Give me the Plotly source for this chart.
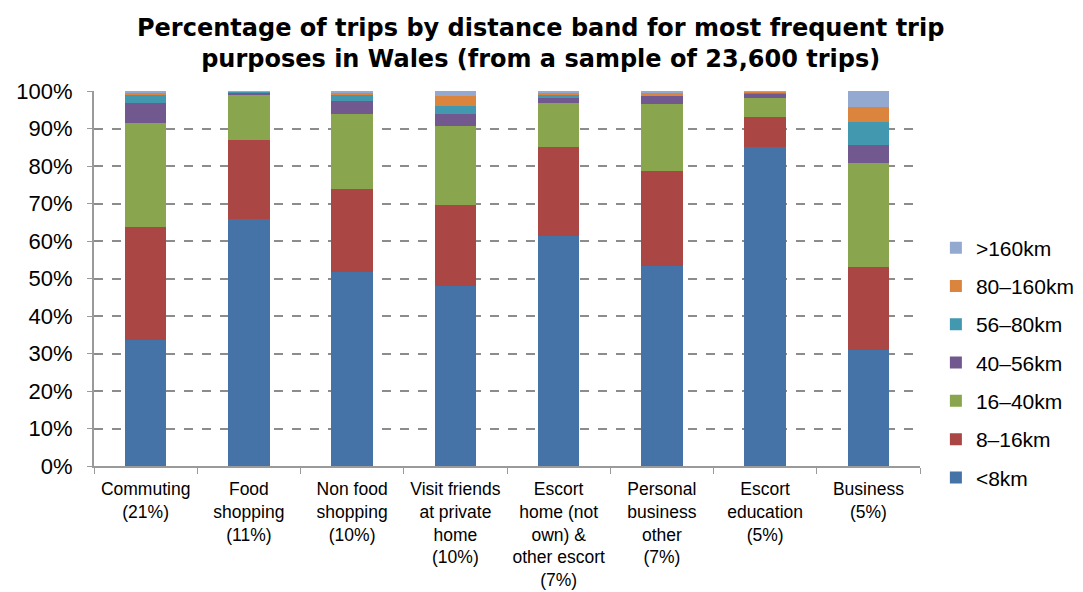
import plotly.graph_objects as go

categories = [
    "Commuting<br>(21%)",
    "Food<br>shopping<br>(11%)",
    "Non food<br>shopping<br>(10%)",
    "Visit friends<br>at private<br>home<br>(10%)",
    "Escort<br>home (not<br>own) &<br>other escort<br>(7%)",
    "Personal<br>business<br>other<br>(7%)",
    "Escort<br>education<br>(5%)",
    "Business<br>(5%)",
]

lt8 = [33.5, 65.9, 51.7, 48.0, 61.3, 53.3, 85.1, 30.9]
b8_16 = [30.2, 21.0, 22.2, 21.6, 23.8, 25.4, 8.0, 22.2]
b16_40 = [27.8, 12.0, 20.0, 21.1, 11.7, 17.8, 5.0, 27.7]
b40_56 = [5.3, 0.6, 3.4, 3.2, 1.4, 2.2, 1.3, 4.8]
b56_80 = [2.1, 0.4, 1.6, 2.1, 0.7, 0.2, 0.1, 6.1]
b80_160 = [0.6, 0.05, 0.6, 2.7, 0.6, 0.5, 0.4, 4.0]
gt160 = [0.5, 0.05, 0.5, 1.3, 0.5, 0.6, 0.1, 4.3]

series = [
    ("<8km", lt8, "#4572A7"),
    ("8–16km", b8_16, "#AA4643"),
    ("16–40km", b16_40, "#89A54E"),
    ("40–56km", b40_56, "#71588F"),
    ("56–80km", b56_80, "#4198AF"),
    ("80–160km", b80_160, "#DB843D"),
    (">160km", gt160, "#93A9CF"),
]

fig = go.Figure()
for i, (name, vals, color) in enumerate(series):
    fig.add_trace(go.Bar(
        x=categories, y=[v / 100 for v in vals], name=name,
        marker=dict(color=color, line=dict(width=0)),
        legendgroup=name, legendrank=len(series) - i,
    ))

TITLE = ("<b>Percentage of trips by distance band for most frequent trip<br>"
         "purposes in Wales (from a sample of 23,600 trips)</b>")

fig.update_layout(
    barmode="stack",
    bargap=0.6,
    width=1083, height=592,
    paper_bgcolor="white", plot_bgcolor="white",
    margin=dict(l=86, r=170, t=83, b=134),
    font=dict(family="Liberation Sans, Arial, sans-serif", color="black"),
    annotations=[dict(
        text=TITLE, xref="paper", yref="paper",
        x=(541 - 8 - 86) / 827, y=1, xanchor="center", yanchor="bottom",
        yshift=16, showarrow=False, align="center",
        font=dict(family="DejaVu Sans, sans-serif", size=24, color="black"),
    )],
    legend=dict(
        traceorder="grouped",
        tracegroupgap=8,
        x=1.018, xanchor="left", y=0.636, yanchor="top",
        font=dict(size=21, color="black"),
        bgcolor="rgba(0,0,0,0)",
    ),
    showlegend=True,
)

fig.update_yaxes(
    range=[0, 1], tickvals=[i / 10 for i in range(11)],
    tickformat=".0%",
    tickfont=dict(size=22, color="black"),
    ticklabelstandoff=10,
    showgrid=True, gridcolor="#8c8c8c", griddash="dash", gridwidth=1.5,
    showline=True, linecolor="#9a9a9a", linewidth=2,
    ticks="outside", ticklen=5, tickcolor="#9a9a9a",
    zeroline=False, automargin=False,
)
fig.update_xaxes(
    tickfont=dict(size=17.5, color="black"),
    tickangle=0,
    ticklabelstandoff=6,
    showline=True, linecolor="#9a9a9a", linewidth=2,
    ticks="outside", tickson="boundaries", ticklen=6, tickcolor="#9a9a9a",
    showgrid=False, automargin=False,
)

fig.write_html("out.html")
